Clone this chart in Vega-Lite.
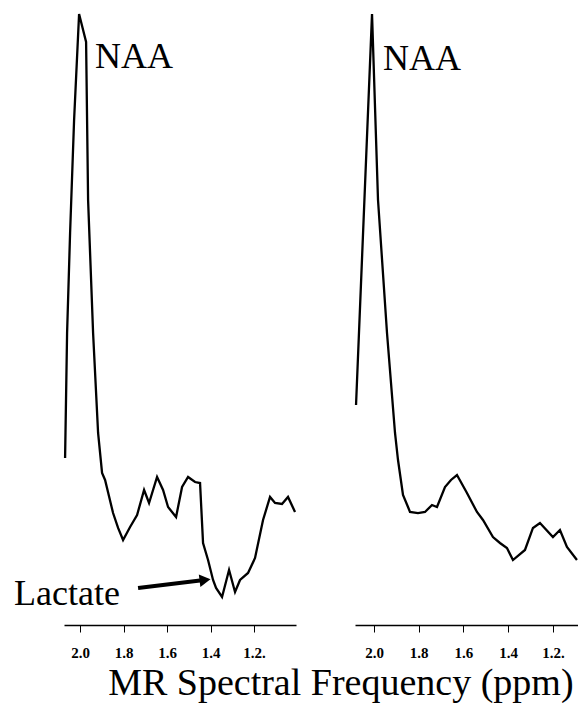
{
  "$schema": "https://vega.github.io/schema/vega-lite/v6.json",
  "autosize": {"type": "pad"},
  "padding": {"left": 14, "top": 5, "right": 0, "bottom": 0},
  "background": "white",
  "config": {"view": {"stroke": null}, "font": "Liberation Serif"},
  "title": {"text": "MR Spectral Frequency (ppm)", "orient": "bottom", "anchor": "end", "dx": -8, "offset": 5, "font": "Liberation Serif", "fontSize": 38, "fontWeight": "normal", "color": "black"},
  "spacing": 59,
  "bounds": "flush",
  "datasets": {
    "left": [
      {"ppm": 2.0690, "signal": 26.94},
      {"ppm": 2.0598, "signal": 47.10},
      {"ppm": 2.0460, "signal": 63.23},
      {"ppm": 2.0276, "signal": 81.45},
      {"ppm": 2.0046, "signal": 98.55},
      {"ppm": 1.9724, "signal": 94.03},
      {"ppm": 1.9632, "signal": 68.55},
      {"ppm": 1.9402, "signal": 47.10},
      {"ppm": 1.9172, "signal": 30.97},
      {"ppm": 1.8989, "signal": 24.52},
      {"ppm": 1.8851, "signal": 23.39},
      {"ppm": 1.8483, "signal": 18.06},
      {"ppm": 1.8253, "signal": 15.65},
      {"ppm": 1.8023, "signal": 13.71},
      {"ppm": 1.7701, "signal": 15.81},
      {"ppm": 1.7379, "signal": 17.74},
      {"ppm": 1.7057, "signal": 21.77},
      {"ppm": 1.6828, "signal": 19.68},
      {"ppm": 1.6460, "signal": 23.87},
      {"ppm": 1.6184, "signal": 21.77},
      {"ppm": 1.5954, "signal": 19.03},
      {"ppm": 1.5586, "signal": 17.42},
      {"ppm": 1.5310, "signal": 22.26},
      {"ppm": 1.5034, "signal": 23.87},
      {"ppm": 1.4713, "signal": 23.06},
      {"ppm": 1.4483, "signal": 22.90},
      {"ppm": 1.4345, "signal": 13.23},
      {"ppm": 1.4115, "signal": 10.48},
      {"ppm": 1.3885, "signal": 7.26},
      {"ppm": 1.3747, "signal": 5.97},
      {"ppm": 1.3471, "signal": 4.52},
      {"ppm": 1.3149, "signal": 8.87},
      {"ppm": 1.2874, "signal": 5.32},
      {"ppm": 1.2644, "signal": 7.26},
      {"ppm": 1.2276, "signal": 8.39},
      {"ppm": 1.1954, "signal": 10.81},
      {"ppm": 1.1586, "signal": 16.94},
      {"ppm": 1.1264, "signal": 20.65},
      {"ppm": 1.1034, "signal": 19.68},
      {"ppm": 1.0713, "signal": 19.52},
      {"ppm": 1.0437, "signal": 20.65},
      {"ppm": 1.0115, "signal": 18.23}
    ],
    "right": [
      {"ppm": 2.0804, "signal": 35.48},
      {"ppm": 2.0089, "signal": 98.55},
      {"ppm": 1.9821, "signal": 68.55},
      {"ppm": 1.9419, "signal": 47.10},
      {"ppm": 1.9061, "signal": 30.97},
      {"ppm": 1.8927, "signal": 26.61},
      {"ppm": 1.8704, "signal": 20.97},
      {"ppm": 1.8480, "signal": 19.03},
      {"ppm": 1.8391, "signal": 18.23},
      {"ppm": 1.8034, "signal": 18.06},
      {"ppm": 1.7721, "signal": 18.23},
      {"ppm": 1.7408, "signal": 19.35},
      {"ppm": 1.7184, "signal": 19.03},
      {"ppm": 1.6827, "signal": 22.26},
      {"ppm": 1.6559, "signal": 23.39},
      {"ppm": 1.6291, "signal": 24.19},
      {"ppm": 1.5844, "signal": 21.29},
      {"ppm": 1.5397, "signal": 18.23},
      {"ppm": 1.5128, "signal": 16.94},
      {"ppm": 1.4682, "signal": 14.19},
      {"ppm": 1.4369, "signal": 13.23},
      {"ppm": 1.4056, "signal": 12.42},
      {"ppm": 1.3788, "signal": 10.48},
      {"ppm": 1.3251, "signal": 12.10},
      {"ppm": 1.2894, "signal": 15.65},
      {"ppm": 1.2581, "signal": 16.45},
      {"ppm": 1.2000, "signal": 14.19},
      {"ppm": 1.1687, "signal": 15.32},
      {"ppm": 1.1374, "signal": 12.58},
      {"ppm": 1.0927, "signal": 10.48}
    ]
  },
  "hconcat": [
    {
      "width": 232,
      "height": 620,
      "layer": [
        {
          "data": {"name": "left"},
          "mark": {"type": "line", "color": "black", "strokeWidth": 2.3},
          "encoding": {
            "x": {"field": "ppm", "type": "quantitative", "scale": {"domain": [2.074, 1.007], "nice": false, "zero": false},
              "axis": {"title": null, "values": [2.0, 1.9, 1.8, 1.7, 1.6, 1.5, 1.4, 1.3, 1.2, 1.1],
                "labelExpr": "format(datum.value,'.1f') == '1.2' ? '1.2.' : (indexof(['2.0','1.8','1.6','1.4'], format(datum.value,'.1f')) >= 0 ? format(datum.value,'.1f') : '')",
                "grid": false, "domainColor": "black", "domainWidth": 1.5, "tickColor": "black", "tickSize": 7, "tickWidth": 1,
                "labelFont": "Liberation Serif", "labelFontSize": 15, "labelFontWeight": "bold", "labelColor": "black", "labelPadding": 13, "labelFlush": false, "labelOverlap": false}},
            "y": {"field": "signal", "type": "quantitative", "scale": {"domain": [0, 100], "nice": false}, "axis": null}
          }
        },
        {
          "data": {"values": [{"ppm": 1.931, "signal": 89.84, "label": "NAA"}]},
          "mark": {"type": "text", "align": "left", "baseline": "alphabetic", "font": "Liberation Serif", "fontSize": 36, "color": "black"},
          "encoding": {
            "x": {"field": "ppm", "type": "quantitative", "scale": {"domain": [2.074, 1.007], "nice": false, "zero": false}},
            "y": {"field": "signal", "type": "quantitative", "scale": {"domain": [0, 100], "nice": false}},
            "text": {"field": "label"}
          }
        },
        {
          "data": {"values": [{"ppm": 2.3034, "signal": 3.23, "label": "Lactate"}]},
          "mark": {"type": "text", "align": "left", "baseline": "alphabetic", "font": "Liberation Serif", "fontSize": 36, "color": "black"},
          "encoding": {
            "x": {"field": "ppm", "type": "quantitative", "scale": {"domain": [2.074, 1.007], "nice": false, "zero": false}},
            "y": {"field": "signal", "type": "quantitative", "scale": {"domain": [0, 100], "nice": false}},
            "text": {"field": "label"}
          }
        },
        {
          "data": {"values": [{"ppm": 1.7333, "signal": 5.97, "ppm_end": 1.4483, "signal_end": 7.18}]},
          "mark": {"type": "rule", "color": "black", "strokeWidth": 4},
          "encoding": {
            "x": {"field": "ppm", "type": "quantitative", "scale": {"domain": [2.074, 1.007], "nice": false, "zero": false}},
            "x2": {"field": "ppm_end"},
            "y": {"field": "signal", "type": "quantitative", "scale": {"domain": [0, 100], "nice": false}},
            "y2": {"field": "signal_end"}
          }
        },
        {
          "data": {"values": [{"ppm": 1.4253, "signal": 7.26}]},
          "mark": {"type": "point", "shape": "triangle-right", "filled": true, "color": "black", "opacity": 1, "size": 160, "angle": -7},
          "encoding": {
            "x": {"field": "ppm", "type": "quantitative", "scale": {"domain": [2.074, 1.007], "nice": false, "zero": false}},
            "y": {"field": "signal", "type": "quantitative", "scale": {"domain": [0, 100], "nice": false}}
          }
        }
      ]
    },
    {
      "width": 223,
      "height": 620,
      "layer": [
        {
          "data": {"name": "right"},
          "mark": {"type": "line", "color": "black", "strokeWidth": 2.3},
          "encoding": {
            "x": {"field": "ppm", "type": "quantitative", "scale": {"domain": [2.085, 1.088], "nice": false, "zero": false},
              "axis": {"title": null, "values": [2.0, 1.9, 1.8, 1.7, 1.6, 1.5, 1.4, 1.3, 1.2, 1.1],
                "labelExpr": "format(datum.value,'.1f') == '1.2' ? '1.2.' : (indexof(['2.0','1.8','1.6','1.4'], format(datum.value,'.1f')) >= 0 ? format(datum.value,'.1f') : '')",
                "grid": false, "domainColor": "black", "domainWidth": 1.5, "tickColor": "black", "tickSize": 7, "tickWidth": 1,
                "labelFont": "Liberation Serif", "labelFontSize": 15, "labelFontWeight": "bold", "labelColor": "black", "labelPadding": 13, "labelFlush": false, "labelOverlap": false}},
            "y": {"field": "signal", "type": "quantitative", "scale": {"domain": [0, 100], "nice": false}, "axis": null}
          }
        },
        {
          "data": {"values": [{"ppm": 1.9598, "signal": 89.52, "label": "NAA"}]},
          "mark": {"type": "text", "align": "left", "baseline": "alphabetic", "font": "Liberation Serif", "fontSize": 36, "color": "black"},
          "encoding": {
            "x": {"field": "ppm", "type": "quantitative", "scale": {"domain": [2.085, 1.088], "nice": false, "zero": false}},
            "y": {"field": "signal", "type": "quantitative", "scale": {"domain": [0, 100], "nice": false}},
            "text": {"field": "label"}
          }
        }
      ]
    }
  ]
}
